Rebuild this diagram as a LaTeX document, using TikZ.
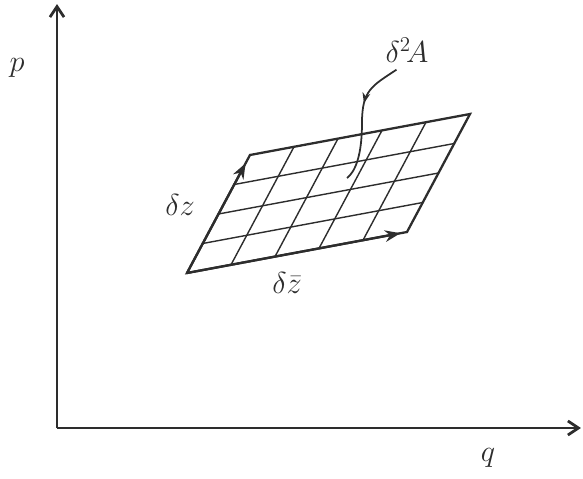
\documentclass[tikz,border=0pt]{standalone}
\usetikzlibrary{arrows.meta,calc,positioning,decorations.markings}
\definecolor{InkGray}{RGB}{45,45,45}

\begin{document}
\begin{tikzpicture}[x=0.02cm,y=0.02cm,>=Stealth,
    axis/.style={InkGray,line width=1.6pt,-{Straight Barb[length=6pt,width=8pt]}},
    edge/.style={InkGray,line width=1.3pt},
    gridline/.style={InkGray,line width=0.8pt},
    lab/.style={InkGray,font=\LARGE,inner sep=1pt}]
  \useasboundingbox (0,0) rectangle (583,478);
  % axes
  \coordinate (O) at (57,50);
  \coordinate (Qend) at (581,50);
  \coordinate (Pend) at (57,474);
  \draw[axis] (O) -- (Qend);
  \draw[axis] (O) -- (Pend);
  \node[lab] (qlab) at (488,20) {$q$};
  \node[lab] (plab) at (17,410) {$p$};
  % parallelogram A-B-C-D
  \coordinate (A) at (187,205);
  \coordinate (B) at (407,246);
  \coordinate (C) at (470,364);
  \coordinate (D) at (250,323);
  \foreach \i in {1,...,4}
    \draw[gridline] ($(A)!\i/5!(B)$) -- ($(D)!\i/5!(C)$);
  \foreach \j in {1,2,3}
    \draw[gridline] ($(A)!\j/4!(D)$) -- ($(B)!\j/4!(C)$);
  \draw[edge] (A) -- (B) -- (C) -- (D) -- cycle;
  \draw[edge,->] (A) -- ($(A)!0.97!(B)$);
  \draw[edge,->] (A) -- ($(A)!0.93!(D)$);
  \node[lab] (dz) at (180,273) {$\delta z$};
  \node[lab] (dzbar) at (287,195) {$\delta\bar z$};
  % area label
  \node[lab] (dA) at (407,428) {$\delta^2\!A$};
  \coordinate (cell) at (347,300);
  \draw[edge,line width=1pt,postaction={decorate},
    decoration={markings,mark=at position 0.38 with {\arrow{Stealth[length=6pt]}}}]
    ([xshift=-6pt,yshift=-3pt]dA.south) .. controls (372,392) and (362,388) .. (362,355)
    .. controls (362,322) and (355,306) .. (cell);
\end{tikzpicture}
\end{document}
